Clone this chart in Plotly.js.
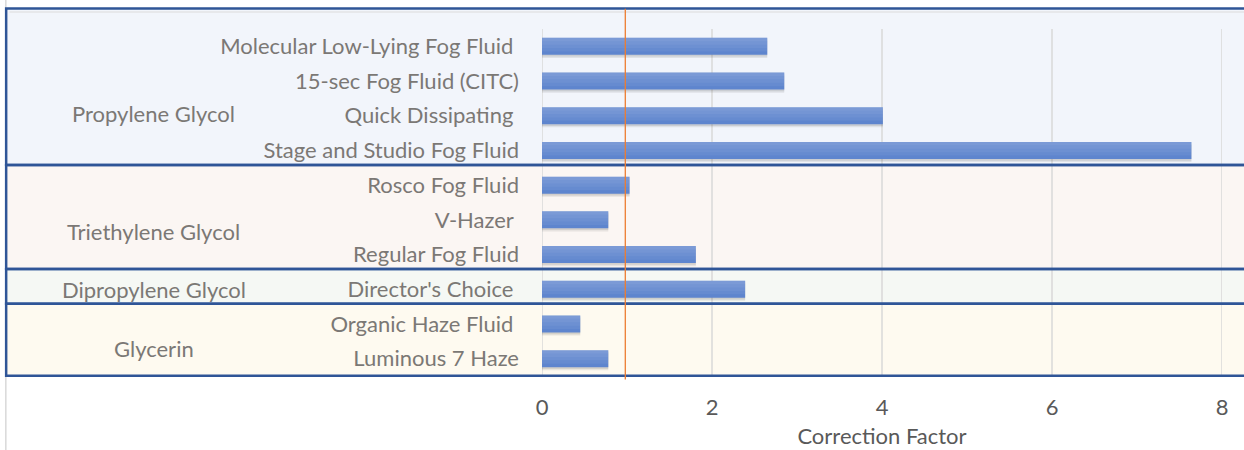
<!DOCTYPE html>
<html>
<head>
<meta charset="utf-8">
<script src="https://cdn.plot.ly/plotly-3.0.1.min.js"></script>
<style>
  html, body { margin: 0; padding: 0; background: #ffffff; }
  #chart { width: 1244px; height: 450px; }
</style>
</head>
<body>
<div id="chart"></div>
<script>
// ---- Data ----
const categories = [
  "Molecular Low-Lying Fog Fluid",
  "15-sec Fog Fluid (CITC)",
  "Quick Dissipating",
  "Stage and Studio Fog Fluid",
  "Rosco Fog Fluid",
  "V-Hazer",
  "Regular Fog Fluid",
  "Director's Choice",
  "Organic Haze Fluid",
  "Luminous 7 Haze"
];
// some labels carry a trailing space in the original
const trailingSpace = [true, false, true, false, false, true, false, true, true, false];
const correctionFactor = [2.65, 2.85, 4.01, 7.64, 1.03, 0.78, 1.81, 2.39, 0.45, 0.78];
const groupNames = ["Propylene Glycol", "Triethylene Glycol", "Dipropylene Glycol", "Glycerin"];
const groupSizes = [4, 3, 1, 2];
const groupFills = ["#F2F5FB", "#FBF6F3", "#F5F8F4", "#FEFAF0"];
const xTicks = [0, 2, 4, 6, 8];
const referenceValue = 0.98;
const xTitle = "Correction Factor";

// ---- Build chart ----
const tickText = categories.map((c, i) => trailingSpace[i] ? c + "\u00A0" : c);
const FONT = "Lato, 'Open Sans', sans-serif";
const FS = 22;
const labelColor = "#7B7875";
const boxLine = "#2F5597";
const nCat = categories.length;
// convert category index (reversed axis, range [n-0.5, -0.5]) to paper units
const idxToPaper = idx => (nCat - 0.5 - idx) / nCat;

const BW = 0.49, OFF = -0.245;
const traces = [];
traces.push({
  type: "bar", orientation: "h",
  x: correctionFactor, y: categories,
  width: BW, offset: OFF + 0.09,
  marker: { color: "rgba(60,60,60,0.10)", line: { width: 0 } },
  hoverinfo: "skip", showlegend: false
});
traces.push({
  type: "bar", orientation: "h",
  x: correctionFactor, y: categories,
  width: BW, offset: OFF + 0.05,
  marker: { color: "rgba(60,60,60,0.12)", line: { width: 0 } },
  hoverinfo: "skip", showlegend: false
});
traces.push({
  type: "bar", orientation: "h",
  x: correctionFactor, y: categories,
  width: BW, offset: OFF,
  marker: { color: "#5E85CE", line: { width: 0 } },
  showlegend: false
});
// soft vertical gradient: lighter toward the top of each bar
[0.8, 0.6, 0.4, 0.2].forEach(f => {
  traces.push({
    type: "bar", orientation: "h",
    x: correctionFactor, y: categories,
    width: BW * f, offset: OFF,
    marker: { color: "rgba(255,255,255,0.05)", line: { width: 0 } },
    hoverinfo: "skip", showlegend: false
  });
});

// group boxes
const shapes = [];
const annotations = [];
const PX0 = -0.788, PX1 = 1.06;
const edges = [];
let start = 0;
groupNames.forEach((g, gi) => {
  const n = groupSizes[gi];
  const topIdx = gi === 0 ? -1.093 : start - 0.58;
  const botIdx = gi === groupNames.length - 1 ? start + n - 0.51 : start + n - 0.58;
  edges.push([idxToPaper(topIdx), idxToPaper(botIdx)]);
  start += n;
});
edges.forEach((e, gi) => {
  shapes.push({
    type: "rect", layer: "below", xref: "paper", yref: "paper",
    x0: PX0, x1: PX1, y0: e[1], y1: e[0],
    fillcolor: groupFills[gi], line: { width: 0 }
  });
});
// vertical gridlines at each tick
xTicks.forEach(t => {
  shapes.push({
    type: "line", layer: "below", xref: "x", yref: "paper",
    x0: t, x1: t, y0: 0, y1: 1,
    line: { color: "#D9D9D9", width: 1.5 }
  });
});
// thin grey chart-area line near top and outer left edge
shapes.push({
  type: "line", layer: "below", xref: "paper", yref: "paper",
  x0: -0.783, x1: PX1, y0: 1.049, y1: 1.049,
  line: { color: "#DCDCDC", width: 1.2 }
});
shapes.push({
  type: "line", layer: "below", xref: "paper", yref: "paper",
  x0: -0.7885, x1: -0.7885, y0: -0.3, y1: 1.1,
  line: { color: "#D9D9D9", width: 1.5 }
});
edges.forEach(e => {
  shapes.push({
    type: "rect", layer: "above", xref: "paper", yref: "paper",
    x0: PX0, x1: PX1, y0: e[1], y1: e[0],
    fillcolor: "rgba(0,0,0,0)", line: { width: 2.5, color: boxLine }
  });
});
// reference line
shapes.push({
  type: "line", layer: "above", xref: "x", yref: "paper",
  x0: referenceValue, x1: referenceValue, y0: -0.01, y1: 1.058,
  line: { color: "#ED7D31", width: 1.3 }
});

const groupLabelY = [1.93, 5.33, 7.0, 8.7];
groupNames.forEach((g, gi) => {
  annotations.push({
    xref: "paper", yref: "paper",
    x: -0.5706, y: idxToPaper(groupLabelY[gi]),
    text: g, showarrow: false,
    xanchor: "center", yanchor: "middle",
    font: { family: FONT, size: FS, color: labelColor }
  });
});

const layout = {
  width: 1244, height: 450,
  margin: { l: 542, r: 22, t: 29, b: 74, pad: 0 },
  paper_bgcolor: "#FFFFFF",
  plot_bgcolor: "rgba(0,0,0,0)",
  barmode: "overlay",
  showlegend: false,
  font: { family: FONT, color: labelColor },
  xaxis: {
    range: [0, 8],
    tickvals: xTicks,
    ticktext: xTicks.map(String),
    showgrid: false,
    zeroline: false, showline: false, ticks: "",
    ticklabelstandoff: 16,
    tickfont: { family: FONT, size: FS, color: "#595959" },
    title: { text: xTitle, standoff: 9, font: { family: FONT, size: FS, color: "#595959" } }
  },
  yaxis: {
    type: "category",
    categoryorder: "array", categoryarray: categories,
    range: [nCat - 0.5, -0.5],
    tickvals: categories, ticktext: tickText,
    showgrid: false, zeroline: false, showline: false, ticks: "",
    ticklabelstandoff: 22,
    tickfont: { family: FONT, size: FS, color: labelColor }
  },
  shapes: shapes,
  annotations: annotations
};

Plotly.newPlot("chart", traces, layout, { staticPlot: true, displayModeBar: false });
</script>
</body>
</html>
